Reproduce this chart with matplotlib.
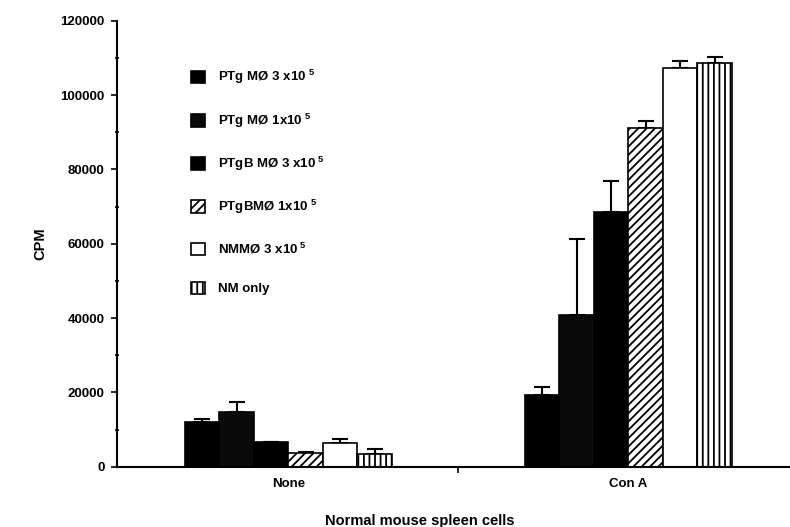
import numpy as np
import matplotlib
matplotlib.use('Agg')
import matplotlib.pyplot as plt
from matplotlib.patches import Patch

plt.rcParams['font.family'] = ['Liberation Sans', 'DejaVu Sans']
plt.rcParams['mathtext.default'] = 'regular'
plt.rcParams['hatch.linewidth'] = 1.3

# data
groups = ['None', 'Con A']
series = ['PTg MØ 3 x10$^{\\ 5}$', 'PTg MØ 1x10$^{\\ 5}$', 'PTgB MØ 3 x10$^{\\ 5}$',
          'PTgBMØ 1x10$^{\\ 5}$', 'NMMØ 3 x10$^{\\ 5}$', 'NM only']
means = [
    [12000, 14800, 6600, 3600, 6500, 3400],       # None
    [19300, 40800, 68500, 91100, 107400, 108700],  # Con A
]
errs = [
    [800, 2500, 0, 300, 900, 1300],
    [2200, 20400, 8400, 1900, 1700, 1500],
]
faces = ['black', '#0a0a0a', 'black', 'white', 'white', 'white']
hatches = [None, None, None, '////', None, '|||']

fig = plt.figure(figsize=(7.9, 5.27), dpi=100)
ax = fig.add_axes([0.148, 0.1144, 0.852, 0.8463])

means = np.array(means)
errs = np.array(errs)
x = np.arange(len(groups))
w = 0.1015
for i in range(len(series)):
    pos = x + (i - 2.5) * w
    ax.bar(pos, means[:, i], width=w, color=faces[i], edgecolor='black',
           linewidth=1.2, hatch=hatches[i], zorder=2)
    ax.errorbar(pos, means[:, i], yerr=[np.zeros(len(groups)), errs[:, i]],
                fmt='none', ecolor='black', elinewidth=1.5, capsize=5.5,
                capthick=1.5, zorder=1)

ax.set_xlim(-0.504, 1.475)
ax.set_ylim(0, 120000)
ax.spines['top'].set_visible(False)
ax.spines['right'].set_visible(False)
ax.spines['left'].set_linewidth(1.5)
ax.spines['bottom'].set_linewidth(1.5)

ax.set_yticks(np.arange(0, 120001, 20000))
ax.set_yticks(np.arange(10000, 120000, 20000), minor=True)
ax.tick_params(axis='y', which='major', direction='out', length=4, width=1.2,
               labelsize=9.5, pad=5)
ax.tick_params(axis='y', which='minor', direction='inout', length=3, width=1.2)
for t in ax.get_yticklabels():
    t.set_fontweight('bold')

ax.set_xticks([0.5])
ax.set_xticklabels([''])
ax.set_xticks(x, minor=True)
ax.set_xticklabels(groups, minor=True, fontweight='bold')
ax.tick_params(axis='x', which='major', direction='out', length=4, width=1.2)
ax.tick_params(axis='x', which='minor', length=0, labelsize=9.5, pad=8)

ax.set_ylabel('CPM', fontsize=10.5, fontweight='bold', labelpad=9)
ax.set_xlabel('Normal mouse spleen cells', fontsize=10.5, fontweight='bold', labelpad=16)
ax.xaxis.set_label_coords(0.45, -0.105)

handles = [Patch(facecolor=faces[i], edgecolor='black', hatch=hatches[i], linewidth=1.2)
           for i in range(len(series))]
leg = ax.legend(handles, series, loc='upper left', bbox_to_anchor=(0.092, 0.92),
                frameon=False, fontsize=9.5, handlelength=1.1, handleheight=1.1,
                labelspacing=1.9, handletextpad=1.0)
for t in leg.get_texts():
    t.set_fontweight('bold')

plt.savefig('out.png', dpi=100)
